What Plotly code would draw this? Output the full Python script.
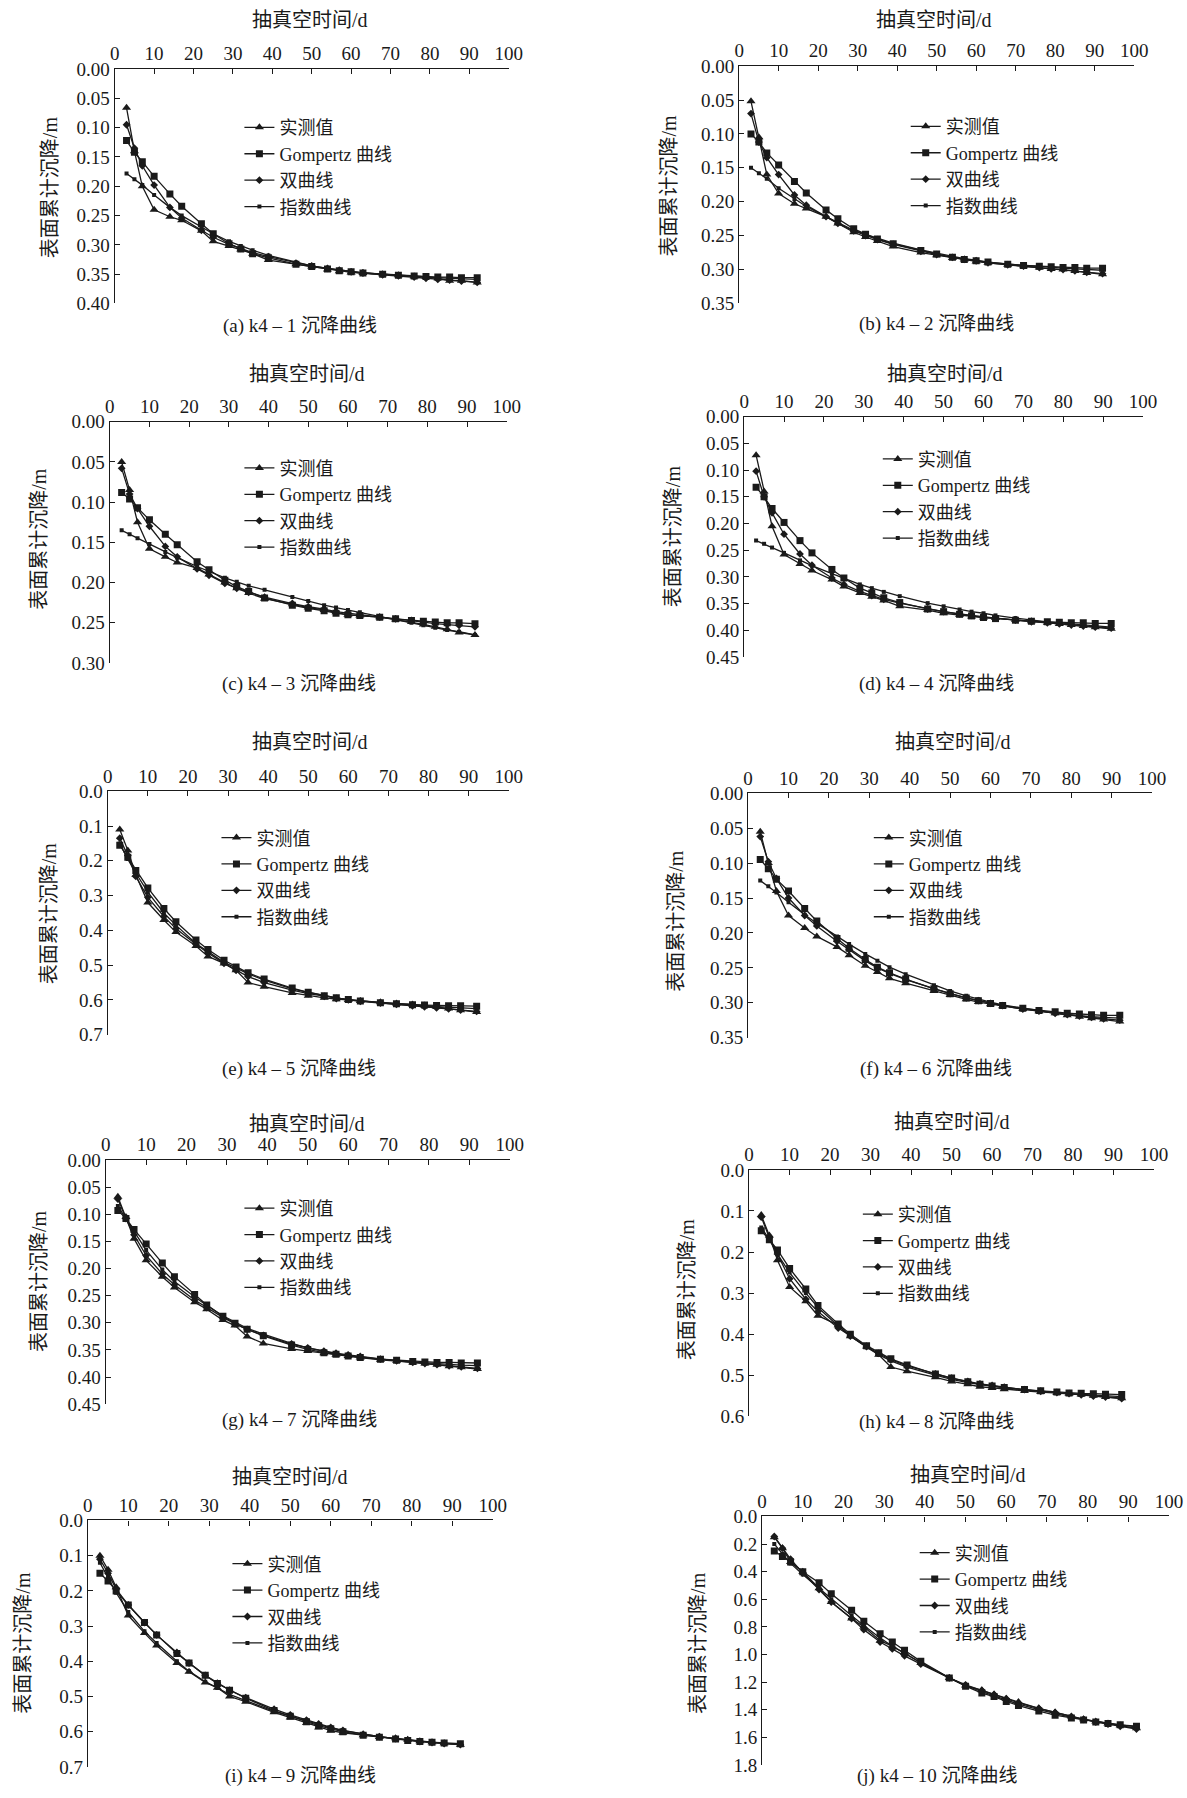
import plotly.graph_objects as go

# The photographed page is mapped as: shot = S * page + (0, OY).
# Geometry below is given in reference-image pixels and converted to page pixels.
S, OY = 0.9867, 10.0
W, H = 1203, 1798

days = [3, 5, 7, 10, 14, 17, 22, 25, 29, 32, 35, 39, 46, 50, 54, 57, 60, 63, 68, 72, 76, 79, 82, 85, 88, 92]

series_names = ["实测值", "Gompertz 曲线", "双曲线", "指数曲线"]
captions = ["(a) k4 – 1 沉降曲线", "(b) k4 – 2 沉降曲线", "(c) k4 – 3 沉降曲线", "(d) k4 – 4 沉降曲线",
            "(e) k4 – 5 沉降曲线", "(f) k4 – 6 沉降曲线", "(g) k4 – 7 沉降曲线", "(h) k4 – 8 沉降曲线",
            "(i) k4 – 9 沉降曲线", "(j) k4 – 10 沉降曲线"]
x_title = "抽真空时间/d"
y_title = "表面累计沉降/m"
y_max = [0.40, 0.35, 0.30, 0.45, 0.7, 0.35, 0.45, 0.6, 0.7, 1.8]
y_step = [0.05, 0.05, 0.05, 0.05, 0.1, 0.05, 0.05, 0.1, 0.1, 0.2]

# k4-1
a_meas = [0.066, 0.140, 0.200, 0.240, 0.252, 0.258, 0.276, 0.294, 0.302, 0.308, 0.315, 0.326, 0.333, 0.337, 0.342, 0.345, 0.347, 0.348, 0.350, 0.352, 0.354, 0.355, 0.357, 0.361, 0.361, 0.364]
a_gomp = [0.122, 0.142, 0.158, 0.183, 0.213, 0.234, 0.264, 0.281, 0.298, 0.307, 0.315, 0.322, 0.333, 0.337, 0.341, 0.344, 0.346, 0.348, 0.350, 0.352, 0.353, 0.354, 0.355, 0.355, 0.356, 0.356]
a_hyp = [0.095, 0.135, 0.165, 0.198, 0.236, 0.254, 0.275, 0.287, 0.299, 0.306, 0.313, 0.320, 0.331, 0.336, 0.340, 0.343, 0.346, 0.348, 0.351, 0.353, 0.355, 0.357, 0.359, 0.360, 0.362, 0.364]
a_exp = [0.178, 0.188, 0.198, 0.215, 0.236, 0.250, 0.270, 0.281, 0.294, 0.302, 0.309, 0.318, 0.330, 0.336, 0.340, 0.343, 0.346, 0.348, 0.350, 0.352, 0.354, 0.355, 0.356, 0.357, 0.358, 0.359]
# k4-2
b_meas = [0.052, 0.105, 0.160, 0.188, 0.203, 0.210, 0.222, 0.232, 0.245, 0.252, 0.258, 0.266, 0.275, 0.279, 0.283, 0.285, 0.288, 0.290, 0.293, 0.295, 0.297, 0.299, 0.300, 0.302, 0.305, 0.307]
b_gomp = [0.100, 0.112, 0.128, 0.146, 0.170, 0.187, 0.212, 0.225, 0.240, 0.248, 0.255, 0.262, 0.272, 0.277, 0.282, 0.285, 0.287, 0.289, 0.292, 0.294, 0.295, 0.296, 0.297, 0.297, 0.298, 0.298]
b_hyp = [0.070, 0.112, 0.135, 0.160, 0.190, 0.205, 0.222, 0.232, 0.243, 0.250, 0.256, 0.263, 0.273, 0.278, 0.282, 0.285, 0.287, 0.290, 0.293, 0.295, 0.297, 0.299, 0.300, 0.302, 0.304, 0.306]
b_exp = [0.150, 0.158, 0.166, 0.180, 0.196, 0.207, 0.222, 0.231, 0.242, 0.248, 0.254, 0.261, 0.271, 0.276, 0.281, 0.284, 0.286, 0.289, 0.292, 0.294, 0.296, 0.297, 0.298, 0.299, 0.300, 0.301]
# k4-3
c_meas = [0.050, 0.085, 0.125, 0.158, 0.168, 0.175, 0.182, 0.190, 0.200, 0.207, 0.213, 0.220, 0.227, 0.231, 0.234, 0.237, 0.240, 0.241, 0.243, 0.246, 0.249, 0.252, 0.255, 0.258, 0.262, 0.265]
c_gomp = [0.088, 0.096, 0.107, 0.122, 0.140, 0.153, 0.174, 0.184, 0.197, 0.205, 0.211, 0.219, 0.228, 0.232, 0.235, 0.238, 0.240, 0.241, 0.243, 0.245, 0.247, 0.248, 0.249, 0.250, 0.250, 0.251]
c_hyp = [0.058, 0.090, 0.108, 0.130, 0.155, 0.168, 0.183, 0.191, 0.201, 0.207, 0.212, 0.218, 0.226, 0.230, 0.233, 0.236, 0.238, 0.240, 0.243, 0.245, 0.247, 0.249, 0.251, 0.252, 0.253, 0.255]
c_exp = [0.135, 0.140, 0.145, 0.152, 0.162, 0.169, 0.180, 0.186, 0.194, 0.199, 0.204, 0.209, 0.218, 0.223, 0.228, 0.231, 0.234, 0.237, 0.242, 0.246, 0.250, 0.253, 0.256, 0.259, 0.261, 0.265]
# k4-4
d_meas = [0.072, 0.140, 0.205, 0.258, 0.276, 0.288, 0.305, 0.318, 0.330, 0.337, 0.344, 0.355, 0.362, 0.368, 0.371, 0.374, 0.376, 0.377, 0.380, 0.383, 0.386, 0.388, 0.390, 0.392, 0.394, 0.397]
d_gomp = [0.132, 0.150, 0.172, 0.198, 0.232, 0.255, 0.286, 0.302, 0.321, 0.330, 0.339, 0.348, 0.360, 0.365, 0.370, 0.373, 0.376, 0.378, 0.381, 0.383, 0.384, 0.385, 0.386, 0.386, 0.387, 0.387]
d_hyp = [0.102, 0.150, 0.180, 0.220, 0.257, 0.278, 0.302, 0.314, 0.327, 0.335, 0.342, 0.349, 0.360, 0.365, 0.369, 0.372, 0.375, 0.377, 0.381, 0.384, 0.386, 0.388, 0.390, 0.392, 0.394, 0.396]
d_exp = [0.232, 0.238, 0.245, 0.255, 0.269, 0.279, 0.294, 0.303, 0.314, 0.321, 0.328, 0.336, 0.349, 0.355, 0.361, 0.365, 0.368, 0.372, 0.377, 0.381, 0.384, 0.386, 0.388, 0.390, 0.392, 0.394]
# k4-5
e_meas = [0.110, 0.170, 0.240, 0.320, 0.370, 0.405, 0.445, 0.475, 0.495, 0.515, 0.550, 0.562, 0.580, 0.588, 0.594, 0.598, 0.600, 0.603, 0.607, 0.610, 0.613, 0.616, 0.620, 0.625, 0.630, 0.635]
e_gomp = [0.155, 0.190, 0.228, 0.278, 0.337, 0.375, 0.428, 0.455, 0.486, 0.505, 0.522, 0.540, 0.566, 0.578, 0.588, 0.594, 0.599, 0.603, 0.608, 0.611, 0.614, 0.615, 0.616, 0.617, 0.617, 0.618]
e_hyp = [0.135, 0.185, 0.245, 0.305, 0.360, 0.395, 0.440, 0.465, 0.495, 0.515, 0.533, 0.550, 0.572, 0.582, 0.590, 0.596, 0.600, 0.604, 0.609, 0.613, 0.617, 0.620, 0.623, 0.626, 0.629, 0.633]
e_exp = [0.150, 0.195, 0.235, 0.290, 0.350, 0.385, 0.438, 0.462, 0.492, 0.508, 0.525, 0.543, 0.568, 0.578, 0.588, 0.594, 0.599, 0.603, 0.609, 0.613, 0.616, 0.618, 0.620, 0.622, 0.623, 0.625]
# k4-6
f_meas = [0.055, 0.100, 0.140, 0.175, 0.193, 0.205, 0.220, 0.232, 0.247, 0.256, 0.265, 0.272, 0.283, 0.289, 0.295, 0.299, 0.302, 0.305, 0.309, 0.312, 0.315, 0.318, 0.320, 0.322, 0.324, 0.327]
f_gomp = [0.095, 0.108, 0.123, 0.140, 0.165, 0.183, 0.208, 0.222, 0.238, 0.249, 0.257, 0.266, 0.280, 0.287, 0.293, 0.297, 0.301, 0.304, 0.308, 0.311, 0.313, 0.315, 0.316, 0.317, 0.318, 0.318]
f_hyp = [0.062, 0.098, 0.122, 0.150, 0.175, 0.190, 0.212, 0.224, 0.240, 0.250, 0.258, 0.267, 0.280, 0.287, 0.293, 0.297, 0.301, 0.304, 0.309, 0.312, 0.315, 0.317, 0.319, 0.321, 0.323, 0.325]
f_exp = [0.125, 0.133, 0.142, 0.156, 0.174, 0.186, 0.205, 0.216, 0.230, 0.240, 0.249, 0.259, 0.275, 0.283, 0.290, 0.295, 0.299, 0.303, 0.308, 0.312, 0.315, 0.317, 0.319, 0.320, 0.321, 0.322]
# k4-7
g_meas = [0.068, 0.105, 0.145, 0.185, 0.215, 0.235, 0.262, 0.275, 0.295, 0.305, 0.325, 0.338, 0.348, 0.352, 0.356, 0.359, 0.361, 0.364, 0.368, 0.370, 0.373, 0.375, 0.377, 0.380, 0.382, 0.385]
g_gomp = [0.093, 0.108, 0.128, 0.155, 0.190, 0.215, 0.248, 0.267, 0.288, 0.301, 0.312, 0.324, 0.341, 0.349, 0.355, 0.358, 0.361, 0.364, 0.367, 0.369, 0.371, 0.372, 0.373, 0.373, 0.374, 0.374]
g_hyp = [0.072, 0.108, 0.138, 0.176, 0.210, 0.230, 0.258, 0.272, 0.290, 0.302, 0.312, 0.323, 0.339, 0.346, 0.352, 0.356, 0.359, 0.362, 0.367, 0.370, 0.373, 0.375, 0.377, 0.379, 0.381, 0.384]
g_exp = [0.085, 0.108, 0.133, 0.166, 0.202, 0.224, 0.252, 0.268, 0.287, 0.299, 0.310, 0.321, 0.338, 0.346, 0.353, 0.357, 0.360, 0.363, 0.367, 0.370, 0.372, 0.374, 0.376, 0.377, 0.378, 0.379]
# k4-8
h_meas = [0.110, 0.160, 0.220, 0.285, 0.320, 0.355, 0.378, 0.405, 0.430, 0.450, 0.480, 0.490, 0.505, 0.515, 0.522, 0.528, 0.531, 0.534, 0.538, 0.541, 0.543, 0.545, 0.547, 0.550, 0.553, 0.556]
h_gomp = [0.148, 0.170, 0.195, 0.240, 0.290, 0.330, 0.375, 0.400, 0.428, 0.445, 0.460, 0.475, 0.497, 0.507, 0.516, 0.522, 0.526, 0.530, 0.535, 0.538, 0.541, 0.543, 0.544, 0.545, 0.546, 0.547]
h_hyp = [0.115, 0.165, 0.205, 0.265, 0.315, 0.345, 0.385, 0.405, 0.430, 0.447, 0.462, 0.477, 0.497, 0.507, 0.515, 0.521, 0.525, 0.529, 0.535, 0.539, 0.542, 0.545, 0.548, 0.551, 0.553, 0.557]
h_exp = [0.140, 0.170, 0.205, 0.250, 0.300, 0.335, 0.380, 0.405, 0.432, 0.450, 0.465, 0.480, 0.500, 0.510, 0.518, 0.523, 0.527, 0.531, 0.536, 0.540, 0.543, 0.545, 0.547, 0.549, 0.550, 0.552]
# k4-9
i_meas = [0.100, 0.140, 0.190, 0.270, 0.320, 0.355, 0.405, 0.430, 0.460, 0.475, 0.500, 0.515, 0.545, 0.560, 0.575, 0.588, 0.597, 0.603, 0.610, 0.615, 0.619, 0.623, 0.627, 0.630, 0.633, 0.637]
i_gomp = [0.150, 0.172, 0.200, 0.240, 0.290, 0.325, 0.378, 0.405, 0.440, 0.463, 0.482, 0.505, 0.540, 0.556, 0.572, 0.583, 0.592, 0.600, 0.610, 0.616, 0.621, 0.625, 0.628, 0.630, 0.632, 0.634]
i_hyp = [0.110, 0.150, 0.195, 0.240, 0.290, 0.325, 0.375, 0.405, 0.440, 0.462, 0.482, 0.503, 0.536, 0.552, 0.567, 0.578, 0.588, 0.596, 0.607, 0.614, 0.620, 0.624, 0.628, 0.631, 0.634, 0.637]
i_exp = [0.120, 0.162, 0.205, 0.260, 0.315, 0.348, 0.400, 0.428, 0.458, 0.476, 0.494, 0.512, 0.542, 0.556, 0.570, 0.580, 0.589, 0.597, 0.607, 0.614, 0.620, 0.624, 0.628, 0.631, 0.633, 0.636]
# k4-10
j_meas = [0.150, 0.230, 0.330, 0.400, 0.520, 0.620, 0.740, 0.800, 0.900, 0.940, 0.990, 1.060, 1.170, 1.225, 1.260, 1.290, 1.320, 1.345, 1.390, 1.420, 1.450, 1.470, 1.485, 1.500, 1.515, 1.535]
j_gomp = [0.250, 0.290, 0.330, 0.400, 0.480, 0.560, 0.680, 0.760, 0.850, 0.910, 0.970, 1.050, 1.170, 1.230, 1.280, 1.305, 1.340, 1.370, 1.410, 1.440, 1.460, 1.475, 1.490, 1.500, 1.510, 1.520]
j_hyp = [0.145, 0.230, 0.310, 0.410, 0.530, 0.620, 0.740, 0.820, 0.910, 0.960, 1.010, 1.070, 1.170, 1.220, 1.260, 1.290, 1.320, 1.350, 1.390, 1.420, 1.450, 1.470, 1.490, 1.505, 1.520, 1.540]
j_exp = [0.200, 0.270, 0.340, 0.420, 0.520, 0.600, 0.720, 0.790, 0.880, 0.940, 0.990, 1.060, 1.170, 1.225, 1.270, 1.300, 1.330, 1.360, 1.400, 1.430, 1.455, 1.470, 1.485, 1.500, 1.510, 1.525]

panels = [
    (a_meas, a_gomp, a_hyp, a_exp), (b_meas, b_gomp, b_hyp, b_exp),
    (c_meas, c_gomp, c_hyp, c_exp), (d_meas, d_gomp, d_hyp, d_exp),
    (e_meas, e_gomp, e_hyp, e_exp), (f_meas, f_gomp, f_hyp, f_exp),
    (g_meas, g_gomp, g_hyp, g_exp), (h_meas, h_gomp, h_hyp, h_exp),
    (i_meas, i_gomp, i_hyp, i_exp), (j_meas, j_gomp, j_hyp, j_exp),
]

# reference-pixel geometry: (x at 0, x at 100, y top, y bottom)
boxes = [(110, 505, 69, 303), (736, 1132, 66, 303),
         (105, 503, 421, 662), (741, 1141, 416, 656),
         (103, 505, 790, 1033), (745, 1150, 792, 1036),
         (101, 506, 1158, 1402), (746, 1152, 1168, 1414),
         (83, 489, 1518, 1764), (759, 1167, 1514, 1762)]
legend_pos = [(246, 128), (914, 127), (246, 468), (886, 459), (223, 837),
              (877, 837), (246, 1207), (866, 1213), (234, 1562), (923, 1551)]
xtitle_pos = [(306, 20), (931, 20), (303, 373), (942, 373), (306, 741),
              (950, 741), (303, 1122), (949, 1120), (286, 1475), (965, 1473)]
ytitle_pos = [(45, 187), (666, 185), (34, 538), (670, 535), (45, 912),
              (673, 919), (34, 1279), (684, 1287), (18, 1640), (694, 1640)]
caption_pos = [(296, 325), (934, 323), (295, 683), (934, 683), (295, 1067),
               (933, 1067), (295, 1418), (934, 1420), (296, 1786), (934, 1786)]

FONT = "Liberation Serif, Noto Sans CJK SC, serif"
INK = "#1a1a1a"
markers = [dict(symbol="triangle-up", size=8), dict(symbol="square", size=7),
           dict(symbol="diamond", size=6), dict(symbol="square", size=4)]


def px(x):
    return min(1.0, max(0.0, (x / S) / W))


def py(y):
    return min(1.0, max(0.0, 1 - ((y - OY) / S) / H))


fig = go.Figure()
layout = dict(width=W, height=H, margin=dict(l=0, r=0, t=0, b=0),
              paper_bgcolor="white", plot_bgcolor="white",
              font=dict(family=FONT, color=INK, size=19), annotations=[])

for k, (series, box) in enumerate(zip(panels, boxes)):
    n = k + 1
    sfx = "" if n == 1 else str(n)
    leg = "legend" + sfx
    for name, vals, mk in zip(series_names, series, markers):
        fig.add_trace(go.Scatter(
            x=days, y=vals, name=name, mode="lines+markers",
            line=dict(color=INK, width=1.3),
            marker=dict(color=INK, **mk),
            xaxis="x" + sfx, yaxis="y" + sfx, legend=leg))
    x0, x1, yt, yb = box
    layout["xaxis" + sfx] = dict(
        domain=[px(x0), px(x1)], range=[0, 100], dtick=10, side="top",
        anchor="y" + sfx, ticks="inside", ticklen=5, tickcolor=INK,
        showline=True, linecolor=INK, linewidth=1.2, showgrid=False,
        zeroline=False, tickfont=dict(size=19, family=FONT))
    layout["yaxis" + sfx] = dict(
        domain=[py(yb), py(yt)], range=[y_max[k], 0], dtick=y_step[k],
        tick0=0, anchor="x" + sfx, ticks="inside", ticklen=5, tickcolor=INK,
        tickformat=".2f" if y_step[k] < 0.1 else ".1f",
        showline=True, linecolor=INK, linewidth=1.2, showgrid=False,
        zeroline=False, tickfont=dict(size=19, family=FONT))
    lx, ly = legend_pos[k]
    layout[leg] = dict(x=px(lx - 11), y=py(ly - 19), xanchor="left",
                       yanchor="top", bgcolor="rgba(0,0,0,0)",
                       font=dict(size=18, family=FONT, color=INK),
                       itemwidth=30, tracegroupgap=0)
    tx, ty = xtitle_pos[k]
    layout["annotations"].append(dict(
        text=x_title, x=px(tx), y=py(ty), xref="paper", yref="paper",
        showarrow=False, xanchor="center", yanchor="middle",
        font=dict(size=20, family=FONT, color=INK)))
    vx, vy = ytitle_pos[k]
    layout["annotations"].append(dict(
        text=y_title, x=px(vx), y=py(vy), xref="paper", yref="paper",
        showarrow=False, xanchor="center", yanchor="middle", textangle=-90,
        font=dict(size=20, family=FONT, color=INK)))
    cx, cy = caption_pos[k]
    cyv = py(cy)
    layout["annotations"].append(dict(
        text=captions[k], x=px(cx), y=max(cyv, 11 / H), xref="paper", yref="paper",
        showarrow=False, xanchor="center", yanchor="middle",
        font=dict(size=19, family=FONT, color=INK)))

fig.update_layout(**layout)
fig.write_html("out.html", config={"displayModeBar": False},
               post_script="document.body.style.margin='0';document.body.style.overflow='hidden';")
